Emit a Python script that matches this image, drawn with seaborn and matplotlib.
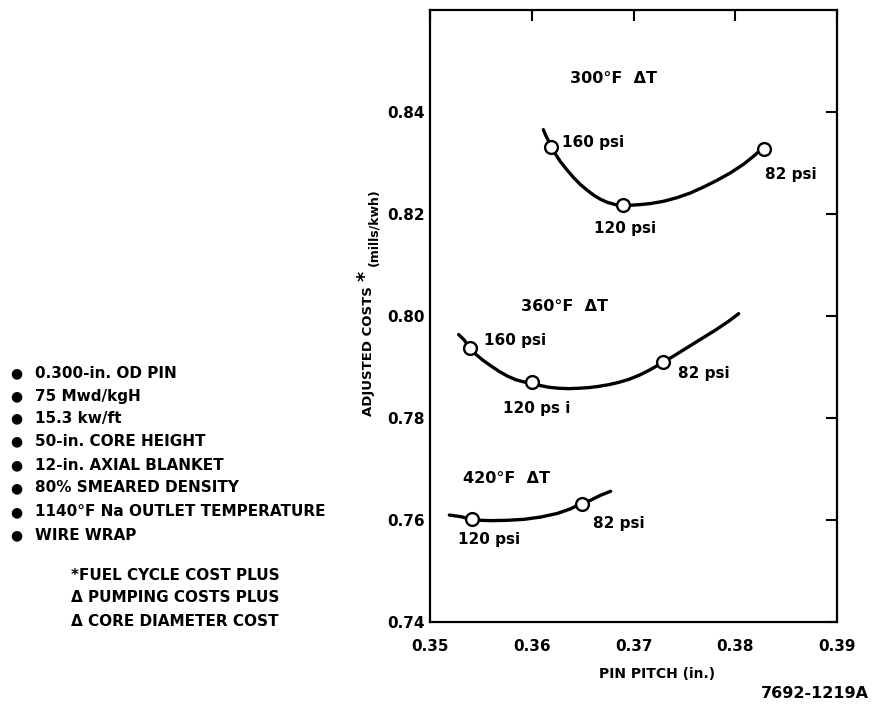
import matplotlib
matplotlib.use("Agg")
import matplotlib.pyplot as plt
import seaborn as sns
import pandas as pd

# ---------------- data ----------------
# smooth curves
curve_300_x = [0.36114, 0.36137, 0.36170, 0.36193, 0.36235, 0.36284, 0.36350, 0.36415,
               0.36480, 0.36546, 0.36611, 0.36676, 0.36742, 0.36824, 0.36899, 0.36971,
               0.37069, 0.37167, 0.37297, 0.37428, 0.37559, 0.37689, 0.37821, 0.37951,
               0.38081, 0.38179, 0.38245, 0.38278]
curve_300_y = [0.83654, 0.83543, 0.83412, 0.83301, 0.83170, 0.83020, 0.82856, 0.82706,
               0.82575, 0.82464, 0.82366, 0.82288, 0.82229, 0.82183, 0.82170, 0.82172,
               0.82185, 0.82205, 0.82250, 0.82320, 0.82412, 0.82529, 0.82661, 0.82804,
               0.82975, 0.83131, 0.83249, 0.83280]

curve_360_x = [0.35281, 0.35337, 0.35392, 0.35451, 0.35516, 0.35598, 0.35680, 0.35761,
               0.35843, 0.35925, 0.36000, 0.36072, 0.36170, 0.36268, 0.36366, 0.36464,
               0.36562, 0.36660, 0.36758, 0.36856, 0.36954, 0.37052, 0.37150, 0.37288,
               0.37412, 0.37542, 0.37673, 0.37804, 0.37935, 0.38033]
curve_360_y = [0.79637, 0.79528, 0.79366, 0.79249, 0.79139, 0.79023, 0.78913, 0.78822,
               0.78751, 0.78706, 0.78690, 0.78641, 0.78602, 0.78583, 0.78576, 0.78583,
               0.78596, 0.78621, 0.78654, 0.78699, 0.78757, 0.78835, 0.78932, 0.79087,
               0.79236, 0.79398, 0.79560, 0.79722, 0.79897, 0.80045]

curve_420_x = [0.35190, 0.35304, 0.35409, 0.35500, 0.35598, 0.35761, 0.35925, 0.36088,
               0.36252, 0.36382, 0.36487, 0.36578, 0.36676, 0.36775]
curve_420_y = [0.76097, 0.76065, 0.76013, 0.75994, 0.75987, 0.75994, 0.76013, 0.76058,
               0.76129, 0.76220, 0.76324, 0.76388, 0.76485, 0.76563]

# design points (open circles)
pts_300_x = [0.3619, 0.3690, 0.3828]
pts_300_y = [0.8331, 0.8217, 0.8328]
pts_360_x = [0.3539, 0.3600, 0.3729]
pts_360_y = [0.7937, 0.7870, 0.7909]
pts_420_x = [0.3541, 0.3649]
pts_420_y = [0.7601, 0.7632]

# texts
curve_titles = ["300\u00b0F  \u0394T", "360\u00b0F  \u0394T", "420\u00b0F  \u0394T"]
psi_300 = ["160 psi", "120 psi", "82 psi"]
psi_360 = ["160 psi", "120 ps i", "82 psi"]
psi_420 = ["120 psi", "82 psi"]

x_ticks = [0.35, 0.36, 0.37, 0.38, 0.39]
x_ticklabels = ["0.35", "0.36", "0.37", "0.38", "0.39"]
y_ticks = [0.74, 0.76, 0.78, 0.80, 0.82, 0.84]
y_ticklabels = ["0.74", "0.76", "0.78", "0.80", "0.82", "0.84"]

conditions = ["0.300-in. OD PIN", "75 Mwd/kgH", "15.3 kw/ft", "50-in. CORE HEIGHT",
              "12-in. AXIAL BLANKET", "80% SMEARED DENSITY",
              "1140\u00b0F Na OUTLET TEMPERATURE", "WIRE WRAP"]
footnote = ["*FUEL CYCLE COST PLUS", "\u0394 PUMPING COSTS PLUS", "\u0394 CORE DIAMETER COST"]

# ---------------- figure ----------------
sns.set_style("white")
plt.rcParams["font.family"] = ["DejaVu Sans"]
plt.rcParams["font.weight"] = "bold"
plt.rcParams["text.color"] = "black"
plt.rcParams["xtick.color"] = "black"
plt.rcParams["ytick.color"] = "black"
plt.rcParams["axes.edgecolor"] = "black"

W, H = 873, 705
fig = plt.figure(figsize=(W / 100, H / 100), dpi=100)
ax = fig.add_axes([430 / W, 1 - 622 / H, (837 - 430) / W, (622 - 10) / H])

curves = pd.concat([
    pd.DataFrame({"pitch": curve_300_x, "cost": curve_300_y, "dT": "300"}),
    pd.DataFrame({"pitch": curve_360_x, "cost": curve_360_y, "dT": "360"}),
    pd.DataFrame({"pitch": curve_420_x, "cost": curve_420_y, "dT": "420"}),
])
points = pd.concat([
    pd.DataFrame({"pitch": pts_300_x, "cost": pts_300_y}),
    pd.DataFrame({"pitch": pts_360_x, "cost": pts_360_y}),
    pd.DataFrame({"pitch": pts_420_x, "cost": pts_420_y}),
])

sns.lineplot(data=curves, x="pitch", y="cost", units="dT", estimator=None, sort=False,
             color="black", lw=2.4, ax=ax, legend=False, solid_joinstyle="round",
             solid_capstyle="round")
sns.scatterplot(data=points, x="pitch", y="cost", s=85, facecolor="white",
                edgecolor="black", linewidth=1.7, ax=ax, zorder=3, legend=False)

ax.set_xlim(0.35, 0.39)
ax.set_ylim(0.74, 0.86)
ax.set_xticks(x_ticks)
ax.set_xticklabels(x_ticklabels)
ax.set_yticks(y_ticks)
ax.set_yticklabels(y_ticklabels)
ax.tick_params(axis="both", direction="in", length=8, width=1.5, labelsize=11,
               top=True, right=True, color="black", labelcolor="black")
ax.tick_params(axis="x", pad=12)
ax.tick_params(axis="y", pad=4)
for lab in ax.get_xticklabels() + ax.get_yticklabels():
    lab.set_fontweight("bold")
for s in ax.spines.values():
    s.set_linewidth(1.6)
    s.set_color("black")
ax.set_xlabel("")
ax.set_ylabel("")

# curve annotations
tkw = dict(fontsize=11, fontweight="bold", va="center", ha="left", color="black")
ax.text(0.3638, 0.8465, curve_titles[0], fontsize=11.5, fontweight="bold", va="center")
ax.text(0.3589, 0.8019, curve_titles[1], fontsize=11.5, fontweight="bold", va="center")
ax.text(0.3532, 0.7682, curve_titles[2], fontsize=11.5, fontweight="bold", va="center")

ax.text(0.3630, 0.8341, psi_300[0], **tkw)
ax.text(0.3661, 0.8171, psi_300[1], **tkw)
ax.text(0.3829, 0.8277, psi_300[2], **tkw)

ax.text(0.3553, 0.7952, psi_360[0], **tkw)
ax.text(0.3572, 0.7819, psi_360[1], **tkw)
ax.text(0.3744, 0.7887, psi_360[2], **tkw)

ax.text(0.3528, 0.7561, psi_420[0], **tkw)
ax.text(0.3660, 0.7594, psi_420[1], **tkw)

# y-axis label pieces
ax.text(-0.152, 0.443, "ADJUSTED COSTS", transform=ax.transAxes, rotation=90,
        fontsize=9.5, fontweight="bold", ha="center", va="center")
ax.text(-0.160, 0.566, "*", transform=ax.transAxes, rotation=90,
        fontsize=14, fontweight="bold", ha="center", va="center")
ax.text(-0.138, 0.645, "(mills/kwh)", transform=ax.transAxes, rotation=90,
        fontsize=9, fontweight="bold", ha="center", va="center")

# x label & figure id
fig.text(657 / W, 1 - 674 / H, "PIN PITCH (in.)", fontsize=10, fontweight="bold",
         ha="center", va="center")
fig.text(869 / W, 1 - 694 / H, "7692-1219A", fontsize=11.5, fontweight="bold",
         ha="right", va="center")

# left-hand condition list
ys = [373, 396, 418, 441, 465, 488, 512, 535]
for yy, txt in zip(ys, conditions):
    fig.text(16 / W, 1 - yy / H, "\u25cf", fontsize=10, ha="center", va="center")
    fig.text(35 / W, 1 - yy / H, txt, fontsize=11, fontweight="bold",
             ha="left", va="center")
for yy, txt in zip([575, 598, 622], footnote):
    fig.text(175 / W, 1 - yy / H, txt, fontsize=11, fontweight="bold",
             ha="center", va="center")

fig.savefig("out.png", dpi=100, facecolor="white")
